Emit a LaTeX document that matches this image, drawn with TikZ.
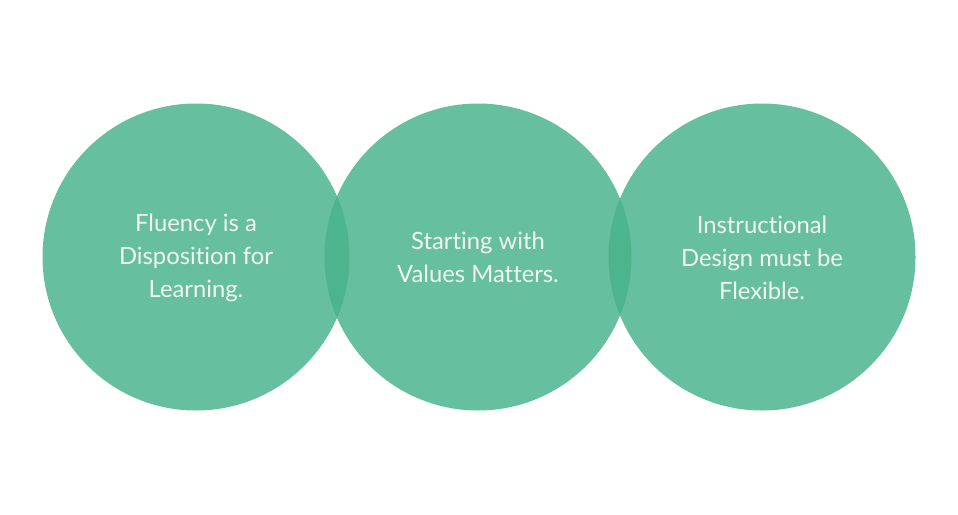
\documentclass[tikz,border=0pt]{standalone}
\usepackage{fontspec}
\setmainfont[Ligatures={NoCommon}]{Lato}
\definecolor{circ}{HTML}{66BF9F}
\definecolor{lens}{HTML}{4DB58D}
\definecolor{txt}{HTML}{F2F5F2}
\begin{document}
\begin{tikzpicture}[x=1pt,y=-1pt,
  bubble/.style={circle,fill=circ,minimum size=307pt,inner sep=0pt},
  label/.style={text=txt,font=\fontsize{23.8}{33}\selectfont,align=center}]
\useasboundingbox (0,0) rectangle (958,514);
\node[bubble] (c1) at (196,257) {};
\node[bubble] (c2) at (478,257) {};
\node[bubble] (c3) at (762,257) {};
\begin{scope}
  \clip (196,257) circle (153.5pt);
  \fill[lens] (478,257) circle (153.5pt);
\end{scope}
\begin{scope}
  \clip (478,257) circle (153.5pt);
  \fill[lens] (762,257) circle (153.5pt);
\end{scope}
\node[label] (t1) at (196,257.5) {Fluency is a\\Disposition for\\Learning.};
\node[label] (t2) at (478,257.5) {Starting with\\Values Matters.};
\node[label] (t3) at (762,257.5) {Instructional\\Design must be\\Flexible.};
\end{tikzpicture}
\end{document}
